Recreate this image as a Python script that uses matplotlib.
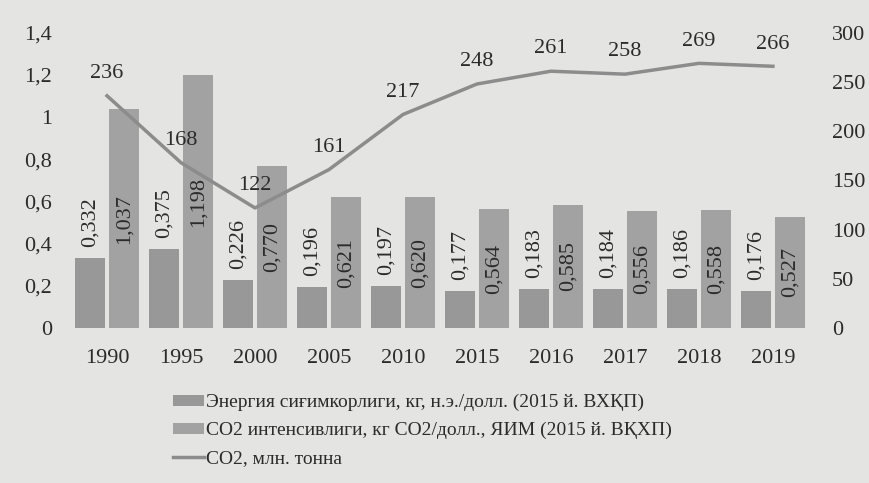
import numpy as np
import matplotlib.pyplot as plt
from matplotlib.patches import Patch
from matplotlib.lines import Line2D

years = ['1990', '1995', '2000', '2005', '2010', '2015', '2016', '2017', '2018', '2019']
energy = [0.332, 0.375, 0.226, 0.196, 0.197, 0.177, 0.183, 0.184, 0.186, 0.176]
co2_int = [1.037, 1.198, 0.770, 0.621, 0.620, 0.564, 0.585, 0.556, 0.558, 0.527]
co2_mt = [236, 168, 122, 161, 217, 248, 261, 258, 269, 266]

left_ticks = [0, 0.2, 0.4, 0.6, 0.8, 1.0, 1.2, 1.4]
left_labels = ['0', '0,2', '0,4', '0,6', '0,8', '1', '1,2', '1,4']
right_ticks = [0, 50, 100, 150, 200, 250, 300]

names = ['Энергия сиғимкорлиги, кг, н.э./долл. (2015 й. ВХҚП)',
         'CO2 интенсивлиги, кг CO2/долл., ЯИМ (2015 й. ВҚХП)',
         'CO2, млн. тонна']

plt.rcParams['font.family'] = ['Liberation Serif', 'DejaVu Serif']

bg = '#e4e4e2'
ink = '#2b2b2b'
c_energy = '#989898'
c_int = '#a2a2a2'
c_line = '#8c8c8c'

fig = plt.figure(figsize=(8.69, 4.83), dpi=100, facecolor=bg)
ax = fig.add_axes([0.0806, 0.321, 0.8514, 0.611])
ax.set_facecolor(bg)
ax2 = ax.twinx()

x = np.arange(len(years))
w = 0.405
off = w / 2 + 0.027

ax.bar(x - off, energy, w, color=c_energy)
ax.bar(x + off, co2_int, w, color=c_int)

# value labels: above the energy bars, centred in the CO2 intensity bars
for xi, v in zip(x - off, energy):
    ax.annotate(f'{v:.3f}'.replace('.', ','), (xi, v), xytext=(0, 8),
                textcoords='offset points', rotation=90, ha='center', va='bottom',
                fontsize=16, color=ink)
for xi, v in zip(x + off, co2_int):
    ax.text(xi, v / 2, f'{v:.3f}'.replace('.', ','), rotation=90,
            ha='center', va='center', fontsize=16, color=ink)

ax.set_xlim(-0.5, len(years) - 0.5)
ax.set_ylim(0, 1.4)
ax.set_yticks(left_ticks)
ax.set_yticklabels(left_labels)
ax.set_xticks(x)
ax.set_xticklabels(years)
ax.tick_params(length=0, labelsize=16, labelcolor=ink)
ax.tick_params(axis='y', pad=13)
ax.tick_params(axis='x', pad=15)

ax2.plot(x, co2_mt, color=c_line, lw=2.5)
for xi, v in zip(x, co2_mt):
    ax2.annotate(str(v), (xi, v), xytext=(0, 16), textcoords='offset points',
                 ha='center', va='center', fontsize=16, color=ink)
ax2.set_ylim(0, 300)
ax2.set_yticks(right_ticks)
ax2.tick_params(length=0, labelsize=16, labelcolor=ink, pad=16)

for a in (ax, ax2):
    for s in a.spines.values():
        s.set_visible(False)

handles = [Patch(facecolor=c_energy), Patch(facecolor=c_int),
           Line2D([], [], color=c_line, lw=2.5)]
fig.legend(handles, names, loc='upper left', bbox_to_anchor=(163 / 869, 1 - 384 / 483),
           frameon=False, fontsize=14, handlelength=1.6, handleheight=0.5,
           handletextpad=0.1, labelspacing=0.55, borderpad=0, labelcolor=ink)

fig.savefig('out.png', dpi=100, facecolor=bg)
